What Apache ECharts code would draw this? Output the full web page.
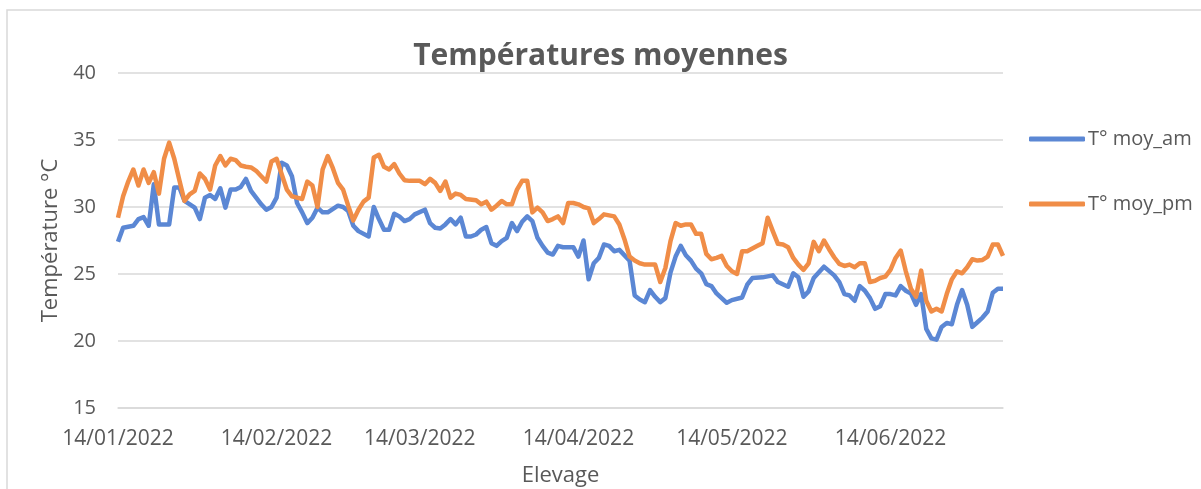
<!DOCTYPE html>
<html>
<head>
<meta charset="utf-8">
<script src="https://cdn.jsdelivr.net/npm/echarts@6/dist/echarts.min.js"></script>
<style>
  html, body { margin: 0; padding: 0; background: #fff; }
  #main { width: 1201px; height: 489px; }
</style>
</head>
<body>
<div id="main"></div>
<script>
// jours depuis le 14/01/2022
var startDate = new Date(2022, 0, 14);
var tickDays = [0, 31, 59, 90, 120, 151];

var amDays = [0, 1, 3, 4, 5, 6, 7, 8, 10, 11, 12, 13, 15, 16, 17, 18, 19, 20, 21, 22, 23, 24, 25, 26, 27, 28, 29, 30,
  31, 32, 33, 34, 35, 36, 37, 38, 39, 40, 41, 43, 44, 45, 46, 47, 49, 50, 51, 52, 53, 54, 55, 56, 57, 58, 60,
  61, 62, 63, 64, 65, 66, 67, 68, 69, 70, 71, 72, 73, 74, 75, 76, 77, 78, 79, 80, 81, 82, 83, 84, 85, 86, 87, 89, 90,
  91, 92, 93, 94, 95, 96, 97, 98, 100, 101, 102, 103, 104, 105, 106, 107, 108, 109, 110, 111, 112, 113, 114, 115, 116, 117, 119, 120,
  122, 123, 124, 126, 128, 129, 131, 132, 133, 134, 135, 136, 138, 140, 141, 142, 143, 144, 145, 146, 147, 148, 149, 150,
  151, 152, 153, 154, 155, 156, 157, 158, 159, 160, 161, 162, 163, 164, 165, 166, 167, 168, 169, 170, 171, 172, 173];
var amTemps = [27.4, 28.45, 28.6, 29.1, 29.25, 28.6, 31.7, 28.7, 28.7, 31.45, 31.45, 30.45, 29.95, 29.1, 30.7, 30.9, 30.6, 31.4, 29.95, 31.3, 31.3, 31.5, 32.1, 31.2, 30.7, 30.2, 29.8, 30.0,
  30.7, 33.3, 33.1, 32.3, 30.3, 29.6, 28.8, 29.2, 29.95, 29.6, 29.6, 30.1, 30.0, 29.7, 28.6, 28.2, 27.8, 30.0, 29.1, 28.3, 28.3, 29.5, 29.3, 28.95, 29.1, 29.45, 29.8,
  28.8, 28.45, 28.4, 28.7, 29.1, 28.7, 29.2, 27.8, 27.8, 27.95, 28.3, 28.5, 27.3, 27.1, 27.45, 27.7, 28.8, 28.2, 28.9, 29.3, 28.95, 27.7, 27.1, 26.6, 26.45, 27.1, 27.0, 27.0, 26.3,
  27.5, 24.6, 25.8, 26.2, 27.2, 27.1, 26.7, 26.8, 26.0, 23.4, 23.1, 22.9, 23.8, 23.3, 22.9, 23.2, 25.1, 26.3, 27.1, 26.4, 26.0, 25.4, 25.05, 24.25, 24.1, 23.55, 22.85, 23.05,
  23.25, 24.2, 24.7, 24.75, 24.9, 24.4, 24.05, 25.05, 24.75, 23.3, 23.7, 24.7, 25.55, 24.9, 24.4, 23.5, 23.4, 23.0, 24.1, 23.75, 23.2, 22.4, 22.6, 23.5,
  23.5, 23.4, 24.1, 23.75, 23.55, 22.7, 23.5, 20.9, 20.2, 20.1, 21.05, 21.35, 21.25, 22.7, 23.8, 22.7, 21.05, 21.4, 21.75, 22.2, 23.6, 23.9, 23.9];

var pmDays = [0, 1, 2, 3, 4, 5, 6, 7, 8, 9, 10, 11, 12, 13, 14, 15, 16, 17, 18, 19, 20, 21, 22, 23, 24, 25, 26, 27, 28, 29, 30,
  31, 32, 33, 34, 35, 36, 37, 38, 39, 40, 41, 42, 43, 44, 45, 46, 47, 48, 49, 50, 51, 52, 53, 54, 55, 56, 57, 59, 60,
  61, 62, 63, 64, 65, 66, 67, 68, 70, 71, 72, 73, 74, 75, 76, 77, 78, 79, 80, 81, 82, 83, 84, 85, 86, 87, 88, 89, 90,
  91, 92, 93, 94, 95, 97, 98, 99, 100, 101, 102, 103, 105, 106, 107, 108, 109, 110, 111, 112, 113, 114, 115, 116, 117, 118, 119, 120,
  121, 122, 123, 124, 125, 126, 127, 128, 129, 130, 131, 132, 133, 134, 135, 136, 137, 138, 139, 140, 141, 142, 143, 144, 145, 146, 147, 148, 149, 150,
  151, 152, 153, 154, 155, 156, 157, 158, 159, 160, 161, 162, 163, 164, 165, 166, 167, 168, 169, 170, 171, 172, 173];
var pmTemps = [29.2, 30.8, 31.9, 32.8, 31.6, 32.8, 31.8, 32.6, 31.0, 33.6, 34.8, 33.6, 32.0, 30.45, 30.95, 31.2, 32.5, 32.1, 31.3, 33.1, 33.8, 33.1, 33.6, 33.5, 33.1, 33.0, 32.95, 32.7, 32.3, 31.9, 33.4,
  33.6, 32.45, 31.3, 30.8, 30.7, 30.6, 31.9, 31.6, 30.0, 32.8, 33.8, 32.9, 31.8, 31.3, 30.1, 29.0, 29.8, 30.4, 30.7, 33.7, 33.9, 33.0, 32.8, 33.2, 32.5, 32.0, 31.95, 31.95, 31.7,
  32.1, 31.8, 31.2, 31.9, 30.7, 31.0, 30.9, 30.6, 30.5, 30.2, 30.4, 29.8, 30.1, 30.45, 30.2, 30.2, 31.3, 31.95, 31.95, 29.6, 29.95, 29.6, 28.95, 29.1, 29.3, 28.8, 30.3, 30.3, 30.2,
  30.0, 29.9, 28.8, 29.1, 29.45, 29.3, 28.7, 27.6, 26.3, 26.0, 25.8, 25.7, 25.7, 24.4, 25.45, 27.45, 28.8, 28.6, 28.7, 28.7, 28.0, 28.0, 26.5, 26.1, 26.2, 26.35, 25.6, 25.2,
  25.0, 26.7, 26.7, 26.9, 27.1, 27.3, 29.2, 28.2, 27.25, 27.2, 27.0, 26.2, 25.7, 25.3, 25.8, 27.4, 26.7, 27.5, 26.85, 26.25, 25.75, 25.6, 25.7, 25.5, 25.8, 25.8, 24.4, 24.5, 24.7, 24.8,
  25.3, 26.2, 26.75, 25.2, 23.9, 23.3, 25.25, 23.0, 22.2, 22.4, 22.2, 23.5, 24.6, 25.2, 25.05, 25.5, 26.1, 26.0, 26.05, 26.3, 27.2, 27.2, 26.35];

var lastDay = 173;

function pad(n) { return n < 10 ? '0' + n : '' + n; }
function dayLabel(d) {
  var dt = new Date(startDate.getTime());
  dt.setDate(dt.getDate() + Math.round(d));
  return pad(dt.getDate()) + '/' + pad(dt.getMonth() + 1) + '/' + dt.getFullYear();
}

var txt = '#595959';
var font = 'Open Sans';
var blue = '#5b87d4';
var orange = '#f08d47';
var myChart = echarts.init(document.getElementById('main'));
var option = {
  backgroundColor: '#fff',
  animation: false,
  graphic: [{
    type: 'rect',
    shape: { x: 7, y: 10, width: 1400, height: 700 },
    style: { fill: 'none', stroke: '#d9d9d9', lineWidth: 1.5 },
    silent: true
  }],
  title: {
    text: 'Températures moyennes',
    left: 'center',
    top: 36,
    textStyle: { color: txt, fontSize: 30, fontWeight: 'bold', fontFamily: font }
  },
  legend: {
    orient: 'vertical',
    left: 1024,
    top: 124,
    itemWidth: 56,
    itemHeight: 5,
    itemGap: 45,
    icon: 'roundRect',
    textStyle: { color: txt, fontSize: 20, fontFamily: font, padding: [0, 0, 0, -2] },
    data: ['T° moy_am', 'T° moy_pm']
  },
  grid: { left: 118, right: 198, top: 73, bottom: 81, outerBoundsMode: 'none' },
  xAxis: {
    type: 'value',
    min: 0,
    max: lastDay,
    name: 'Elevage',
    nameLocation: 'middle',
    nameGap: 57,
    nameTextStyle: { color: txt, fontSize: 22, fontFamily: font },
    axisLine: { show: true, lineStyle: { color: '#d9d9d9', width: 1.5 } },
    axisTick: { show: false },
    splitLine: { show: false },
    axisLabel: {
      customValues: tickDays,
      color: txt,
      fontSize: 21,
      fontFamily: font,
      margin: 21,
      formatter: function (v) { return dayLabel(v); }
    }
  },
  yAxis: {
    type: 'value',
    min: 15,
    max: 40,
    interval: 5,
    name: 'Température °C',
    nameLocation: 'middle',
    nameGap: 56,
    nameTextStyle: { color: txt, fontSize: 22, fontFamily: font },
    axisLine: { show: false },
    axisTick: { show: false },
    splitLine: { lineStyle: { color: '#d9d9d9', width: 1.5 } },
    axisLabel: { color: txt, fontSize: 20, fontFamily: font, margin: 22 }
  },
  series: [
    {
      name: 'T° moy_am',
      type: 'line',
      showSymbol: false,
      color: blue,
      lineStyle: { width: 4.5, color: blue, join: 'round' },
      data: amDays.map(function (d, i) { return [d, amTemps[i]]; })
    },
    {
      name: 'T° moy_pm',
      type: 'line',
      showSymbol: false,
      color: orange,
      lineStyle: { width: 4.5, color: orange, join: 'round' },
      data: pmDays.map(function (d, i) { return [d, pmTemps[i]]; })
    }
  ]
};
myChart.setOption(option);
</script>
</body>
</html>
